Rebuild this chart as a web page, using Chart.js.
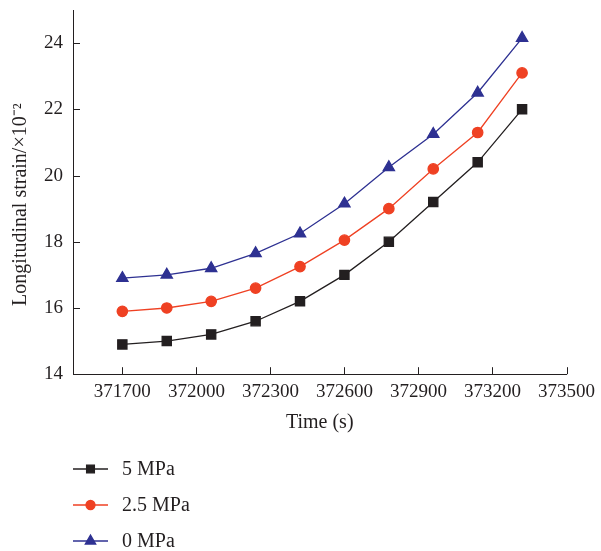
<!DOCTYPE html>
<html>
<head>
<meta charset="utf-8">
<script src="https://cdn.jsdelivr.net/npm/chart.js@4.4.1/dist/chart.umd.min.js"></script>
<style>
  html, body { margin: 0; padding: 0; background: #fff; }
  #wrap { width: 601px; height: 551px; }
</style>
</head>
<body>
<div id="wrap"><canvas id="myChart"></canvas></div>
<script>
// time stamps (s)
var times = [371700, 371880, 372060, 372240, 372420, 372600, 372780, 372960, 373140, 373320];
// longitudinal strain (x10^-2)
var strain5 = [14.9, 15.0, 15.2, 15.6, 16.2, 17.0, 18.0, 19.2, 20.4, 22.0];
var strain25 = [15.9, 16.0, 16.2, 16.6, 17.25, 18.05, 19.0, 20.2, 21.3, 23.1];
var strain0 = [16.9, 17.0, 17.2, 17.65, 18.25, 19.15, 20.25, 21.25, 22.5, 24.15];
// axis ticks
var xTicks = [371700, 372000, 372300, 372600, 372900, 373200, 373500];
var yTicks = [14, 16, 18, 20, 22, 24];

function pts(ys) {
  return times.map(function (t, i) { return { x: t, y: ys[i] }; });
}

var serif = "'Liberation Serif', 'Times New Roman', serif";

// small ticks pointing into the plot, as in the original figure
var innerTicks = {
  id: 'innerTicks',
  afterDraw: function (chart) {
    var ctx = chart.ctx;
    var xs = chart.scales.x, ys = chart.scales.y;
    ctx.save();
    ctx.strokeStyle = '#231f20';
    ctx.lineWidth = 1;
    ctx.beginPath();
    xs.ticks.forEach(function (t) {
      var px = Math.round(xs.getPixelForValue(t.value)) + 0.5;
      ctx.moveTo(px, xs.top);
      ctx.lineTo(px, xs.top - 7);
    });
    ys.ticks.forEach(function (t) {
      var py = Math.round(ys.getPixelForValue(t.value)) + 0.5;
      ctx.moveTo(ys.right, py);
      ctx.lineTo(ys.right + 7, py);
    });
    ctx.stroke();
    ctx.restore();
  }
};

// vertical legend under the plot
var stackLegend = {
  id: 'stackLegend',
  afterDraw: function (chart) {
    var ctx = chart.ctx;
    var x0 = 73, y0 = 469, gap = 36;
    var sizes = { rect: 5.5, circle: 4.5, triangle: 6 };
    ctx.save();
    chart.data.datasets.forEach(function (ds, i) {
      var y = y0 + i * gap;
      ctx.strokeStyle = ds.borderColor;
      ctx.lineWidth = 1.3;
      ctx.beginPath();
      ctx.moveTo(x0, y);
      ctx.lineTo(x0 + 35, y);
      ctx.stroke();
      ctx.fillStyle = ds.backgroundColor;
      ctx.strokeStyle = ds.borderColor;
      Chart.helpers.drawPoint(ctx, {
        pointStyle: ds.pointStyle,
        radius: sizes[ds.pointStyle],
        borderWidth: 1
      }, x0 + 17.5, y);
      ctx.fillStyle = '#231f20';
      ctx.font = '20px ' + serif;
      ctx.textBaseline = 'middle';
      ctx.textAlign = 'left';
      ctx.fillText(ds.label, x0 + 49, y + 1);
    });
    ctx.restore();
  }
};

var ctx = document.getElementById('myChart');
var myChart = new Chart(ctx, {
  type: 'line',
  data: {
    datasets: [
      {
        label: '5 MPa',
        data: pts(strain5),
        borderColor: '#231f20',
        backgroundColor: '#231f20',
        pointStyle: 'rect',
        pointRadius: 6.5,
        borderWidth: 1.3
      },
      {
        label: '2.5 MPa',
        data: pts(strain25),
        borderColor: '#ef4123',
        backgroundColor: '#ef4123',
        pointStyle: 'circle',
        pointRadius: 5.2,
        borderWidth: 1.3
      },
      {
        label: '0 MPa',
        data: pts(strain0),
        borderColor: '#2e3192',
        backgroundColor: '#2e3192',
        pointStyle: 'triangle',
        pointRadius: 6.5,
        borderWidth: 1.3
      }
    ]
  },
  options: {
    responsive: true,
    maintainAspectRatio: false,
    animation: false,
    layout: { padding: { top: 10, right: 33, bottom: 116, left: 9 } },
    plugins: {
      legend: { display: false },
      tooltip: { enabled: false }
    },
    scales: {
      x: {
        type: 'linear',
        min: 371500,
        max: 373500,
        afterBuildTicks: function (scale) {
          scale.ticks = xTicks.map(function (v) { return { value: v }; });
        },
        grid: { display: false, drawTicks: false },
        border: { display: true, color: '#231f20', width: 1 },
        ticks: {
          color: '#231f20',
          padding: 6,
          maxRotation: 0,
          font: { family: serif, size: 19 },
          callback: function (v) { return String(v); }
        },
        title: {
          display: true,
          text: 'Time (s)',
          color: '#231f20',
          padding: { top: 2, bottom: 0 },
          font: { family: serif, size: 20 }
        }
      },
      y: {
        min: 14,
        max: 25,
        afterBuildTicks: function (scale) {
          scale.ticks = yTicks.map(function (v) { return { value: v }; });
        },
        afterFit: function (scale) {
          scale.paddingTop = 0;
        },
        grid: { display: false, drawTicks: false },
        border: { display: true, color: '#231f20', width: 1 },
        ticks: {
          color: '#231f20',
          padding: 10,
          font: { family: serif, size: 19 }
        },
        title: {
          display: true,
          text: 'Longitudinal strain/\u00d710\u207b\u00b2\u00a0\u00a0\u00a0\u00a0\u00a0',
          color: '#231f20',
          padding: { top: 0, bottom: 1 },
          font: { family: serif, size: 20 }
        }
      }
    }
  },
  plugins: [innerTicks, stackLegend]
});
</script>
</body>
</html>
